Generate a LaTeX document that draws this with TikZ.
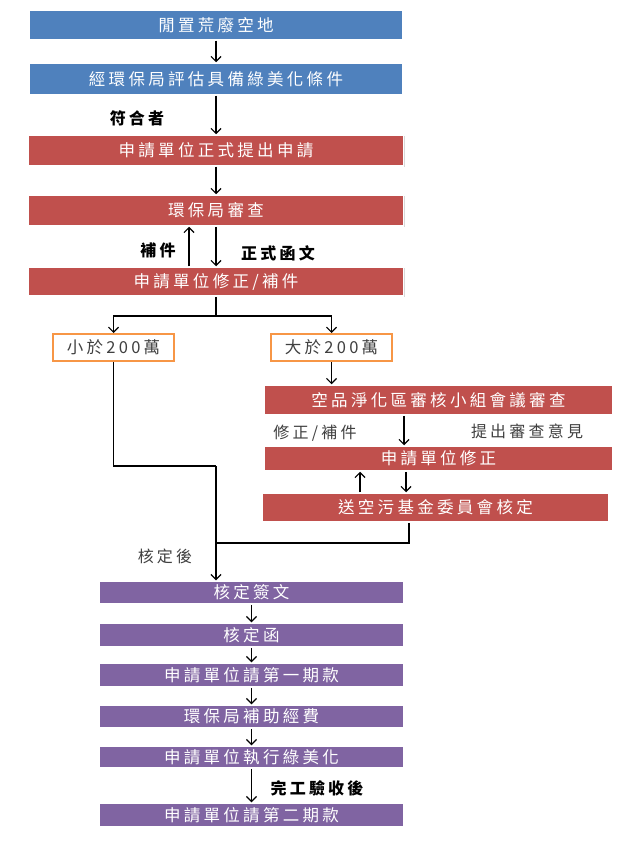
\documentclass[tikz,border=0pt]{standalone}
\usepackage{fontspec}
\newfontfamily\cjk[LetterSpace=20]{Noto Sans CJK TC}
\usetikzlibrary{arrows.meta,shadows}
\definecolor{stepblue}{HTML}{4F81BD}
\definecolor{stepred}{HTML}{C0504D}
\definecolor{steppurple}{HTML}{8064A2}
\definecolor{steporange}{HTML}{F79646}
\definecolor{labelgray}{HTML}{404040}
\tikzset{
  box/.style={draw=white, line width=1.5pt, text=white, inner sep=0pt,
    font=\cjk\fontsize{16.5}{18}\selectfont,
    drop shadow={shadow xshift=1.2pt, shadow yshift=-1.2pt, opacity=0.3}},
  bluebox/.style={box, fill=stepblue, minimum width=374pt},
  redbox/.style={box, fill=stepred},
  purplebox/.style={box, fill=steppurple, minimum width=305pt},
  choice/.style={draw=steporange, line width=2pt, fill=white, text=labelgray,
    inner sep=0pt, minimum width=121pt, minimum height=27pt,
    font=\cjk\fontsize{16.5}{18}\selectfont},
  boldlbl/.style={font=\cjk\bfseries\fontsize{16}{18}\selectfont, text=black},
  lbl/.style={font=\cjk\fontsize{16}{18}\selectfont, text=labelgray},
  arr/.style={-{Straight Barb[length=5pt,width=10pt]}, line width=1.2pt},
  link/.style={line width=1.2pt}
}
\begin{document}
\begin{tikzpicture}[x=1pt,y=-1pt]
\useasboundingbox[fill=white] (0,0) rectangle (642,842);
\node[bluebox, minimum height=30pt] (b1) at (216,25) {閒置荒廢空地};
\node[bluebox, minimum height=32pt] (b2) at (216,79) {經環保局評估具備綠美化條件};
\node[redbox, minimum width=375pt, minimum height=31pt] (b3) at (216,150.5) {申請單位正式提出申請};
\node[redbox, minimum width=375pt, minimum height=31pt] (b4) at (216,210.5) {環保局審查};
\node[redbox, minimum width=375pt, minimum height=29pt] (b5) at (216,281.5) {申請單位修正/補件};
\node[choice] (s1) at (113.5,347.5) {小於200萬};
\node[choice] (s2) at (331.5,347.5) {大於200萬};
\node[redbox, minimum width=349pt, minimum height=30pt] (r1) at (438.5,400) {空品淨化區審核小組會議審查};
\node[redbox, minimum width=349pt, minimum height=25pt] (r2) at (438.5,458.5) {申請單位修正};
\node[redbox, minimum width=347pt, minimum height=29pt] (r3) at (435.5,507.5) {送空污基金委員會核定};
\node[purplebox, minimum height=23pt] (p1) at (251.5,592.5) {核定簽文};
\node[purplebox, minimum height=24pt] (p2) at (251.5,635) {核定函};
\node[purplebox, minimum height=24pt] (p3) at (251.5,675) {申請單位請第一期款};
\node[purplebox, minimum height=23pt] (p4) at (251.5,716.5) {環保局補助經費};
\node[purplebox, minimum height=22pt] (p5) at (251.5,757) {申請單位執行綠美化};
\node[purplebox, minimum height=24pt] (p6) at (251.5,815) {申請單位請第二期款};
\node[boldlbl] (l1) at (137,118) {符合者};
\node[boldlbl] (l2) at (158,250) {補件};
\node[boldlbl] (l3) at (278,253) {正式函文};
\node[lbl] (l4) at (315,433) {修正/補件};
\node[lbl] (l5) at (527,431) {提出審查意見};
\node[lbl] (l6) at (165,556) {核定後};
\node[boldlbl] (l7) at (317,788) {完工驗收後};
\coordinate (fork) at (216,316);
\coordinate (mid) at (216,466);
\coordinate (join) at (216,543);
\draw[arr] (b1) -- (b2);
\draw[arr] (b2) -- (b3);
\draw[arr] (b3) -- (b4);
\draw[arr] (b4) -- (b5);
\draw[arr] ([xshift=-27pt]b5.north) -- ([xshift=-27pt]b4.south);
\draw[link] (b5.south) -- (fork);
\draw[arr] (fork) -| (s1);
\draw[arr] (fork) -| (s2);
\draw[arr] (s2) -- (s2 |- r1.north);
\draw[arr] ([xshift=-34.5pt]r1.south) -- ([xshift=-34.5pt]r2.north);
\draw[arr] ([xshift=-32.5pt]r2.south) -- ([xshift=-32.5pt]r2.south |- r3.north);
\draw[arr] ([xshift=-78.5pt]r2.south |- r3.north) -- ([xshift=-78.5pt]r2.south);
\draw[link] (s1.south) |- (mid);
\draw[link] ([xshift=-26.5pt]r3.south) |- (join);
\draw[arr] (mid) -- (mid |- p1.north);
\draw[arr] (p1) -- (p2);
\draw[arr] (p2) -- (p3);
\draw[arr] (p3) -- (p4);
\draw[arr] (p4) -- (p5);
\draw[arr] (p5) -- (p6);
\end{tikzpicture}
\end{document}
